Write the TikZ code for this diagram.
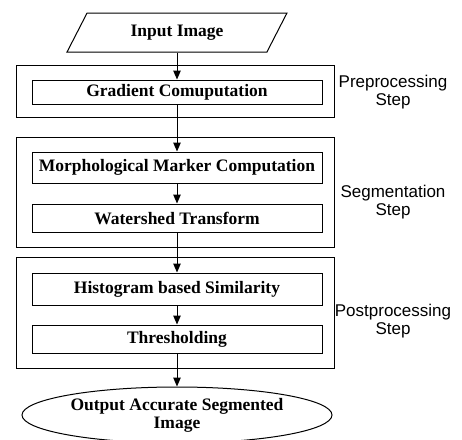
\documentclass[tikz,border=0pt]{standalone}
\usepackage{fontspec}
\setmainfont{Liberation Serif}
\newfontfamily\stepfont{Liberation Sans}
\usetikzlibrary{shapes.geometric,arrows.meta}

\tikzstyle{io} = [trapezium, draw, trapezium left angle=56, trapezium right angle=124,
    trapezium stretches=true, minimum width=220pt, minimum height=39pt, inner sep=0pt,
    font=\fontsize{17.5}{18}\selectfont\bfseries]
\tikzstyle{proc} = [rectangle, draw, minimum width=290pt, minimum height=28pt, inner sep=0pt,
    font=\fontsize{17.5}{18}\selectfont\bfseries]
\tikzstyle{stage} = [rectangle, draw, minimum width=318pt, inner sep=0pt]
\tikzstyle{steplabel} = [align=center, font=\stepfont\fontsize{17}{18}\selectfont]
\tikzstyle{result} = [ellipse, draw, minimum width=310pt, minimum height=56pt, inner sep=0pt,
    align=center, font=\fontsize{17.5}{18}\selectfont\bfseries]
\tikzstyle{flow} = [-{Triangle[length=9pt,width=7.5pt]}]

\begin{document}
\begin{tikzpicture}[x=1pt, y=-1pt, line width=1pt]
\useasboundingbox (0,0) rectangle (462,439);

% step frames
\node[stage, minimum height=52pt] (pre) at (175,91) {};
\node[stage, minimum height=110pt] (seg) at (175,192) {};
\node[stage, minimum height=111pt] (post) at (175,312.5) {};

% flow
\node[io] (input) at (177,32.5) {Input Image};
\node[proc, minimum height=24pt] (grad) at (177,92) {Gradient Comuputation};
\node[proc, minimum height=31pt] (marker) at (177,167.5) {Morphological Marker Computation};
\node[proc] (water) at (177,218) {Watershed Transform};
\node[proc, minimum height=32pt] (hist) at (177,289) {Histogram based Similarity};
\node[proc] (thresh) at (177,339) {Thresholding};
\node[result] (output) at (177,415) {Output Accurate Segmented\\Image};

\draw[flow] (input) -- (grad);
\draw[flow] (grad) -- (marker);
\draw[flow] (marker) -- (water);
\draw[flow] (water) -- (hist);
\draw[flow] (hist) -- (thresh);
\draw[flow] (thresh) -- (output);

% step names
\node[steplabel] (prelabel) at (393,92) {Preprocessing\\Step};
\node[steplabel] (seglabel) at (393,202) {Segmentation\\Step};
\node[steplabel] (postlabel) at (393,321) {Postprocessing\\Step};
\end{tikzpicture}
\end{document}
